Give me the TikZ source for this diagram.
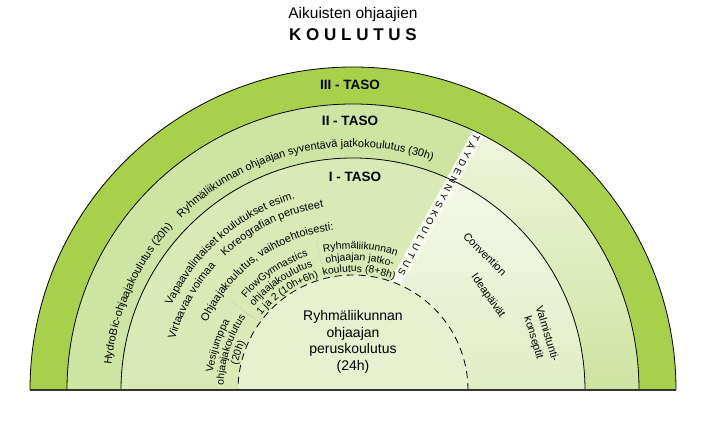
\documentclass[tikz,border=0pt]{standalone}
\usepackage{fontspec}
\setmainfont{Liberation Sans}
\usetikzlibrary{decorations.text}

\definecolor{tasoIII}{HTML}{A9D04A}
\definecolor{tasoII}{HTML}{CEE4A2}
\definecolor{tasoI}{HTML}{DAEAB6}
\definecolor{perusc}{HTML}{E7F1D0}
\definecolor{lisaTop}{HTML}{F6FAEC}
\definecolor{lisaBot}{HTML}{E1EDC4}
\definecolor{lisaIITop}{HTML}{F2F7E2}
\definecolor{lisaIIBot}{HTML}{CFE3A1}
\definecolor{kaista}{HTML}{F9FBF1}

\newcommand{\arcfont}{\fontsize{11}{13}\selectfont}
\newcommand{\smallarc}{\fontsize{10.4}{12}\selectfont}

\begin{document}
\begin{tikzpicture}[x=1pt,y=1pt,
                    ring/.style={draw=black,line width=0.8pt},
                    taso/.style={font=\fontsize{13.5}{15}\selectfont\bfseries},
                    curved/.style={decorate,decoration={text along path,text align=center,text={#1}}},
                    divider/.style={draw=gray!60,densely dotted,line width=0.5pt},
                    sidetext/.style={font=\fontsize{11}{14}\selectfont,align=center,inner sep=0pt},
                    stripletter/.style={font=\fontsize{9.5}{10}\selectfont,inner sep=0pt,rotate=-117}]
\useasboundingbox (-353,-43) rectangle (352,390);

% Create the rings
\fill[tasoIII] (323,0) arc[start angle=0,end angle=180,radius=323] -- cycle;
\fill[tasoII] (286,0) arc[start angle=0,end angle=180,radius=286] -- cycle;
\fill[tasoI] (232,0) arc[start angle=0,end angle=180,radius=232] -- cycle;

% Right part, beside the strip
\begin{scope}
  \clip (-23.2,0) -- (159.1,330) -- (340,330) -- (340,0) -- cycle;
  \shade[top color=lisaIITop,bottom color=lisaIIBot] (286,0) arc[start angle=0,end angle=180,radius=286]
    -- (-232,0) arc[start angle=180,end angle=0,radius=232] -- cycle;
  \shade[top color=lisaTop,bottom color=lisaBot] (232,0) arc[start angle=0,end angle=180,radius=232]
    -- (-115,0) arc[start angle=180,end angle=0,radius=115] -- cycle;
\end{scope}
\begin{scope}
  \clip (286,0) arc[start angle=0,end angle=180,radius=286]
    -- (-115,0) arc[start angle=180,end angle=0,radius=115] -- cycle;
  \fill[kaista] (-23.2,0) -- (159.1,330) -- (173.1,330) -- (-9.2,0) -- cycle;
\end{scope}
\fill[perusc] (115,0) arc[start angle=0,end angle=180,radius=115] -- cycle;

% Create the borders
\draw[ring] (323,0) arc[start angle=0,end angle=180,radius=323];
\draw[ring] (286,0) arc[start angle=0,end angle=180,radius=286];
\draw[ring] (232,0) arc[start angle=0,end angle=180,radius=232];
\draw[line width=0.8pt,dash pattern=on 7pt off 5pt] (115,0) arc[start angle=0,end angle=180,radius=115];
\draw[line width=1.4pt,black!80] (-323,0) -- (323,0);
\draw[divider] (144:115) -- (144:153);
\draw[divider] (104:115) -- (104:153);

% Title
\node[font=\fontsize{15.5}{18}\selectfont,anchor=base] (otsikko) at (0,371) {Aikuisten ohjaajien};
\node[font=\fontsize{17}{20}\selectfont\bfseries,anchor=base] (koulutus) at (0,349) {K O U L U T U S};

% Level names
\node[taso] (taso3) at (-3,305) {III - TASO};
\node[taso] (taso2) at (-3,269) {II - TASO};
\node[taso] (taso1) at (2,213) {I - TASO};

% Curved labels
\path[curved={|\arcfont|HydroBic-ohjaajakoulutus (20h)}] (186:243) arc[start angle=186,end angle=126,radius=243];
\path[curved={|\arcfont|Ryhmäliikunnan ohjaajan syventävä jatkokoulutus (30h)}] (140:243) arc[start angle=140,end angle=66,radius=243];
\path[curved={|\arcfont|Vapaavalintaiset koulutukset esim.}] (161:200) arc[start angle=161,end angle=101,radius=200];
\path[curved={|\arcfont|Virtaavaa voimaa}] (170:185) arc[start angle=170,end angle=132,radius=185];
\path[curved={|\arcfont|Koreografian perusteet}] (138:185) arc[start angle=138,end angle=95,radius=185];
\path[curved={|\arcfont|Ohjaajakoulutus{,} vaihtoehtoisesti:}] (162:161) arc[start angle=162,end angle=90,radius=161];

\path[curved={|\smallarc|Vesijumppa}] (190:141) arc[start angle=190,end angle=134,radius=141];
\path[curved={|\smallarc|ohjaajakoulutus}] (190:129.5) arc[start angle=190,end angle=134,radius=129.5];
\path[curved={|\smallarc|(20h)}] (190:118) arc[start angle=190,end angle=134,radius=118];

\path[curved={|\smallarc|FlowGymnastics}] (152:141) arc[start angle=152,end angle=96,radius=141];
\path[curved={|\smallarc|ohjaajakoulutus}] (152:129.5) arc[start angle=152,end angle=96,radius=129.5];
\path[curved={|\smallarc|1 ja 2 (10h+6h)}] (152:118) arc[start angle=152,end angle=96,radius=118];

\path[curved={|\smallarc|Ryhmäliikunnan}] (115:141) arc[start angle=115,end angle=59,radius=141];
\path[curved={|\smallarc|ohjaajan jatko-}] (115:129.5) arc[start angle=115,end angle=59,radius=129.5];
\path[curved={|\smallarc|koulutus (8+8h)}] (115:118) arc[start angle=115,end angle=59,radius=118];

% Centre and right side
\node[font=\fontsize{14}{16.5}\selectfont,align=center] (perus) at (0,48) {Ryhmäliikunnan\\ohjaajan\\peruskoulutus\\(24h)};
\node[sidetext,rotate=-45] (convention) at (132,136) {Convention};
\node[sidetext,rotate=-55] (ideapaivat) at (135,94) {Ideapäivät};
\node[sidetext,rotate=-73] (valmistunti) at (187,54) {Valmistunti-\\konseptit};

% Strip letters
\foreach \ch [count=\i from 0] in {T,Ä,Y,D,E,N,N,Y,S,K,O,U,L,U,T,U,S}
  \node[stripletter] (kirjain\i) at ({123-4.625*\i},{252-8.375*\i}) {\ch};
\end{tikzpicture}
\end{document}
